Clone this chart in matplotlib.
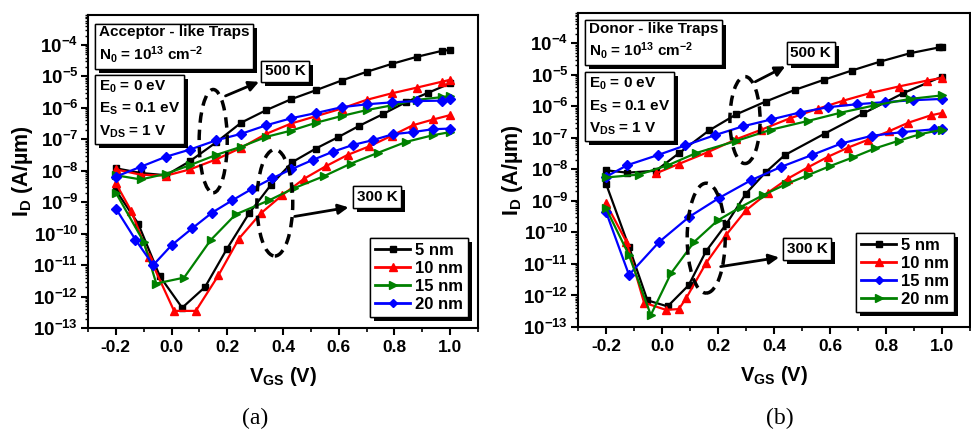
import numpy as np
import matplotlib
matplotlib.use("Agg")
import matplotlib.pyplot as plt
from matplotlib.patches import Ellipse
from matplotlib import patheffects
from matplotlib.ticker import LogLocator, FuncFormatter, MultipleLocator, NullFormatter

plt.rcParams['font.family'] = ['Liberation Sans', 'DejaVu Sans']
plt.rcParams['font.weight'] = 'bold'
plt.rcParams['axes.labelweight'] = 'bold'
plt.rcParams['mathtext.fontset'] = 'custom'
plt.rcParams['mathtext.rm'] = 'Liberation Sans:bold'
plt.rcParams['mathtext.bf'] = 'Liberation Sans:bold'
plt.rcParams['mathtext.it'] = 'Liberation Sans:bold'
plt.rcParams['mathtext.default'] = 'bf'

# ---- (a) acceptor-like traps ----
a500_5_x = [-0.2, -0.11, -0.02, 0.065, 0.16, 0.25, 0.34, 0.43, 0.52, 0.61, 0.70, 0.79, 0.88, 0.97, 1.0]
a500_5_y = [1.2e-8, 8.5e-9, 7.2e-9, 2.0e-8, 8e-8, 3.4e-7, 8.5e-7, 1.9e-6, 3.7e-6, 7.4e-6, 1.4e-5, 2.5e-5, 4.2e-5, 6.5e-5, 7e-5]
a500_10_x = [-0.2, -0.11, -0.02, 0.065, 0.16, 0.25, 0.34, 0.43, 0.52, 0.61, 0.70, 0.79, 0.88, 0.97, 1.0]
a500_10_y = [1.1e-8, 7.5e-9, 7e-9, 1.1e-8, 2.3e-8, 5.4e-8, 1.5e-7, 3.2e-7, 5.5e-7, 9.5e-7, 1.8e-6, 2.9e-6, 4.4e-6, 6.8e-6, 7.8e-6]
a500_15_x = [-0.2, -0.11, -0.02, 0.065, 0.16, 0.25, 0.34, 0.43, 0.52, 0.61, 0.70, 0.79, 0.88, 0.97, 1.0]
a500_15_y = [7.2e-9, 5.3e-9, 8e-9, 1.5e-8, 3.2e-8, 5.8e-8, 1.2e-7, 1.9e-7, 3.4e-7, 5.5e-7, 8.5e-7, 1.2e-6, 1.8e-6, 2.2e-6, 2.4e-6]
a500_20_x = [-0.2, -0.11, -0.02, 0.065, 0.16, 0.25, 0.34, 0.43, 0.52, 0.61, 0.70, 0.79, 0.88, 0.97, 1.0]
a500_20_y = [6.5e-9, 1.35e-8, 2.8e-8, 4.7e-8, 9.3e-8, 1.5e-7, 2.8e-7, 4.7e-7, 6.9e-7, 1.05e-6, 1.3e-6, 1.5e-6, 1.65e-6, 1.7e-6, 1.85e-6]

a300_5_x = [-0.2, -0.12, -0.042, 0.038, 0.12, 0.198, 0.278, 0.356, 0.434, 0.518, 0.596, 0.674, 0.758, 0.84, 0.92, 1.0]
a300_5_y = [2.4e-9, 2.1e-10, 4.4e-12, 4.4e-13, 2e-12, 3.2e-11, 4.4e-10, 3.5e-9, 1.9e-8, 5.1e-8, 1.15e-7, 2.7e-7, 6.3e-7, 1.5e-6, 3e-6, 6e-6]
a300_10_x = [-0.2, -0.145, -0.08, 0.009, 0.087, 0.168, 0.242, 0.32, 0.398, 0.476, 0.554, 0.632, 0.71, 0.79, 0.866, 0.94, 1.0]
a300_10_y = [4e-9, 5.3e-10, 1.8e-11, 3.5e-13, 3.5e-13, 4.7e-12, 7e-11, 4.4e-10, 1.7e-9, 5.6e-9, 1.4e-8, 3.2e-8, 6e-8, 1.3e-7, 2.8e-7, 4.3e-7, 5.9e-7]
a300_15_x = [-0.2, -0.1, -0.055, 0.045, 0.14, 0.23, 0.35, 0.44, 0.548, 0.644, 0.74, 0.842, 0.938, 1.0]
a300_15_y = [2e-9, 5.5e-11, 2.6e-12, 4e-12, 6.2e-11, 4.1e-10, 1.15e-9, 2.8e-9, 6.8e-9, 1.7e-8, 3.7e-8, 8.3e-8, 1.35e-7, 1.7e-7]
a300_20_x = [-0.2, -0.13, -0.066, 0.0, 0.075, 0.146, 0.218, 0.29, 0.362, 0.428, 0.506, 0.578, 0.65, 0.722, 0.794, 0.866, 0.938, 1.0]
a300_20_y = [6.3e-10, 6.5e-11, 1e-11, 4.3e-11, 1.5e-10, 4.7e-10, 1.15e-9, 2.7e-9, 5.8e-9, 1.1e-8, 2.2e-8, 4e-8, 6.6e-8, 9.4e-8, 1.45e-7, 1.7e-7, 2.1e-7, 2.2e-7]

# ---- (b) donor-like traps ----
b500_5_x = [-0.2, -0.124, -0.022, 0.062, 0.168, 0.265, 0.37, 0.475, 0.577, 0.678, 0.78, 0.887, 0.99, 1.0]
b500_5_y = [9.3e-9, 7.8e-9, 9e-9, 3.3e-8, 1.7e-7, 5.5e-7, 1.4e-6, 3.3e-6, 6.8e-6, 1.35e-5, 2.6e-5, 4.8e-5, 7.3e-5, 7.6e-5]
b500_10_x = [-0.022, 0.062, 0.164, 0.266, 0.355, 0.456, 0.557, 0.648, 0.743, 0.845, 0.947, 1.0]
b500_10_y = [7.4e-9, 1.5e-8, 3.5e-8, 9e-8, 1.8e-7, 4.1e-7, 8.3e-7, 1.5e-6, 2.6e-6, 4.2e-6, 6.5e-6, 7.9e-6]
b500_15_x = [-0.2, -0.124, -0.016, 0.083, 0.188, 0.289, 0.39, 0.492, 0.593, 0.695, 0.797, 0.898, 1.0]
b500_15_y = [5.8e-9, 1.35e-8, 2.8e-8, 5.7e-8, 1.2e-7, 2.3e-7, 3.8e-7, 6.3e-7, 9.3e-7, 1.15e-6, 1.35e-6, 1.55e-6, 1.7e-6]
b500_20_x = [-0.2, -0.082, 0.022, 0.123, 0.265, 0.39, 0.521, 0.641, 0.761, 0.886, 1.0]
b500_20_y = [5.5e-9, 6.8e-9, 1.35e-8, 3.3e-8, 7.9e-8, 1.8e-7, 3.4e-7, 6.3e-7, 1.07e-6, 1.7e-6, 2.2e-6]

b300_5_x = [-0.2, -0.118, -0.052, 0.02, 0.095, 0.157, 0.229, 0.3, 0.37, 0.438, 0.581, 0.719, 0.862, 1.0]
b300_5_y = [3.5e-9, 3.5e-11, 7e-13, 4.5e-13, 2.1e-12, 2.5e-11, 1.8e-10, 1.7e-9, 8e-9, 2.8e-8, 1.35e-7, 5.9e-7, 2.6e-6, 8.7e-6]
b300_10_x = [-0.2, -0.127, -0.064, 0.014, 0.06, 0.086, 0.157, 0.229, 0.3, 0.378, 0.45, 0.521, 0.593, 0.665, 0.737, 0.81, 0.88, 0.959, 1.0]
b300_10_y = [8.3e-10, 5e-11, 5.9e-13, 3.5e-13, 3.7e-13, 8.1e-13, 1.05e-11, 8.3e-11, 5e-10, 1.8e-9, 5.1e-9, 1.15e-8, 2.5e-8, 4.9e-8, 8.7e-8, 1.6e-7, 3e-7, 5.1e-7, 6.1e-7]
b300_15_x = [-0.2, -0.118, -0.01, 0.097, 0.205, 0.318, 0.426, 0.534, 0.641, 0.749, 0.856, 0.97, 1.0]
b300_15_y = [4.5e-10, 4.5e-12, 5e-11, 3.1e-10, 1.25e-9, 4.5e-9, 1.2e-8, 2.8e-8, 6.6e-8, 1.15e-7, 1.5e-7, 1.85e-7, 1.9e-7]
b300_20_x = [-0.2, -0.118, -0.04, 0.032, 0.115, 0.199, 0.283, 0.36, 0.444, 0.521, 0.599, 0.683, 0.761, 0.845, 0.922, 1.0]
b300_20_y = [5.8e-10, 1.9e-11, 2.4e-13, 5e-12, 5e-11, 2.4e-10, 6.5e-10, 1.5e-9, 3.4e-9, 6.5e-9, 1.25e-8, 2.4e-8, 4.6e-8, 8e-8, 1.3e-7, 1.8e-7]

thickness_labels = ['5 nm', '10 nm', '15 nm', '20 nm']

BLACK, RED, GREEN, BLUE = 'k', '#ff0000', '#008000', '#0000ff'
SHADOW = [patheffects.withSimplePatchShadow(offset=(3, -3), shadow_rgbFace='k', alpha=1.0),
          patheffects.Normal()]


def boxed(ax, x, y, s, ha='left', va='top', fs=11, ls=1.3):
    t = ax.text(x, y, s, transform=ax.transAxes, ha=ha, va=va, fontsize=fs,
                fontweight='bold', linespacing=ls, zorder=10,
                bbox=dict(boxstyle='square,pad=0.25', fc='white', ec='k', lw=1))
    t.get_bbox_patch().set_path_effects(SHADOW)
    return t


def setup_axes(ax):
    ax.set_yscale('log')
    ax.set_xlim(-0.3, 1.1)
    ax.set_ylim(1e-13, 9e-4)
    ax.yaxis.set_major_locator(LogLocator(base=10, numticks=20))
    ax.yaxis.set_minor_locator(LogLocator(base=10, subs=np.arange(2, 10), numticks=20))
    ax.yaxis.set_minor_formatter(NullFormatter())
    ax.yaxis.set_major_formatter(FuncFormatter(lambda v, p: r'$10^{%d}$' % int(round(np.log10(v)))))
    ax.xaxis.set_major_locator(MultipleLocator(0.2))
    ax.xaxis.set_minor_locator(MultipleLocator(0.1))
    ax.xaxis.set_major_formatter(FuncFormatter(lambda v, p: '%.1f' % v))
    ax.tick_params(which='major', direction='out', length=5, width=1.5)
    ax.tick_params(axis='x', which='major', labelsize=12.5)
    ax.tick_params(axis='y', which='major', labelsize=13.5, pad=2)
    ax.tick_params(axis='x', which='minor', direction='out', length=3, width=1.2)
    ax.tick_params(axis='y', which='minor', direction='out', length=2.5, width=1)
    for sp in ax.spines.values():
        sp.set_linewidth(1.5)
    for lab in ax.get_xticklabels() + ax.get_yticklabels():
        lab.set_fontweight('bold')
    ax.set_xlabel('V$_{GS}$ (V)', fontsize=14.5, labelpad=7)
    ax.set_ylabel('I$_D$ (A/µm)', fontsize=15.5)
    ax.yaxis.set_label_coords(-0.135, 0.5)


def draw_series(ax, series):
    handles = []
    for x5, y5, x3, y3, color, marker, ms, label in series:
        h, = ax.plot(x5, y5, color=color, marker=marker, ms=ms, lw=1.6, label=label)
        ax.plot(x3, y3, color=color, marker=marker, ms=ms, lw=1.6)
        handles.append(h)
    return handles


def add_legend(ax, handles, anchor):
    leg = ax.legend(handles=handles, loc='lower right', bbox_to_anchor=anchor, fontsize=12,
                    handlelength=2.1, labelspacing=0.18, borderpad=0.3, handletextpad=0.3,
                    borderaxespad=0, fancybox=False, framealpha=1, edgecolor='k',
                    markerscale=0.9)
    leg.get_frame().set_linewidth(1)
    leg.get_frame().set_path_effects(SHADOW)
    for line in leg.get_lines():
        line.set_linewidth(2)
    return leg


fig = plt.figure(figsize=(9.71, 4.42), dpi=100)
ax1 = fig.add_axes([88 / 971, 114 / 442, 390 / 971, 313 / 442])
ax2 = fig.add_axes([578 / 971, 115 / 442, 392 / 971, 314 / 442])

# panel (a)
setup_axes(ax1)
h1 = draw_series(ax1, [
    (a500_5_x, a500_5_y, a300_5_x, a300_5_y, BLACK, 's', 5, thickness_labels[0]),
    (a500_10_x, a500_10_y, a300_10_x, a300_10_y, RED, '^', 6, thickness_labels[1]),
    (a500_15_x, a500_15_y, a300_15_x, a300_15_y, GREEN, '>', 6, thickness_labels[2]),
    (a500_20_x, a500_20_y, a300_20_x, a300_20_y, BLUE, 'D', 5, thickness_labels[3]),
])
boxed(ax1, 0.028, 0.967, 'Acceptor - like Traps\nN$_0$ = 10$^{13}$ cm$^{-2}$')
boxed(ax1, 0.028, 0.797, 'E$_0$ = 0 eV\nE$_S$ = 0.1 eV\nV$_{DS}$ = 1 V', ls=1.5)
boxed(ax1, 0.505, 0.82, '500 K', ha='center', va='center')
boxed(ax1, 0.741, 0.419, '300 K', ha='center', va='center')
ax1.add_patch(Ellipse((0.321, 0.597), 0.072, 0.33, transform=ax1.transAxes, fill=False,
                      ls=(0, (3, 2)), lw=2.5, ec='k', zorder=6))
ax1.add_patch(Ellipse((0.479, 0.40), 0.092, 0.34, transform=ax1.transAxes, fill=False,
                      ls=(0, (3, 2)), lw=2.5, ec='k', zorder=6))
ax1.annotate('', xy=(0.445, 0.79), xytext=(0.346, 0.738), xycoords='axes fraction',
             arrowprops=dict(arrowstyle='-|>', color='k', lw=2, mutation_scale=15), zorder=7)
ax1.annotate('', xy=(0.675, 0.387), xytext=(0.523, 0.355), xycoords='axes fraction',
             arrowprops=dict(arrowstyle='-|>', color='k', lw=2, mutation_scale=15), zorder=7)
add_legend(ax1, h1, (0.975, 0.035))

# panel (b)
setup_axes(ax2)
h2 = draw_series(ax2, [
    (b500_5_x, b500_5_y, b300_5_x, b300_5_y, BLACK, 's', 5, thickness_labels[0]),
    (b500_10_x, b500_10_y, b300_10_x, b300_10_y, RED, '^', 6, thickness_labels[1]),
    (b500_15_x, b500_15_y, b300_15_x, b300_15_y, BLUE, 'D', 5, thickness_labels[2]),
    (b500_20_x, b500_20_y, b300_20_x, b300_20_y, GREEN, '>', 6, thickness_labels[3]),
])
boxed(ax2, 0.028, 0.972, 'Donor - like Traps\nN$_0$ = 10$^{13}$ cm$^{-2}$')
boxed(ax2, 0.028, 0.80, 'E$_0$ = 0 eV\nE$_S$ = 0.1 eV\nV$_{DS}$ = 1 V', ls=1.5)
boxed(ax2, 0.594, 0.873, '500 K', ha='center', va='center')
boxed(ax2, 0.584, 0.248, '300 K', ha='center', va='center')
ax2.add_patch(Ellipse((0.426, 0.659), 0.077, 0.277, transform=ax2.transAxes, fill=False,
                      ls=(0, (3, 2)), lw=2.5, ec='k', zorder=6))
ax2.add_patch(Ellipse((0.327, 0.283), 0.097, 0.35, transform=ax2.transAxes, fill=False,
                      ls=(0, (3, 2)), lw=2.5, ec='k', zorder=6))
ax2.annotate('', xy=(0.535, 0.834), xytext=(0.446, 0.777), xycoords='axes fraction',
             arrowprops=dict(arrowstyle='-|>', color='k', lw=2, mutation_scale=15), zorder=7)
ax2.annotate('', xy=(0.52, 0.223), xytext=(0.357, 0.191), xycoords='axes fraction',
             arrowprops=dict(arrowstyle='-|>', color='k', lw=2, mutation_scale=15), zorder=7)
add_legend(ax2, h2, (0.96, 0.048))

fig.text(0.263, 0.054, '(a)', ha='center', va='center', fontsize=17,
         family='Liberation Serif', fontweight='normal')
fig.text(0.803, 0.054, '(b)', ha='center', va='center', fontsize=17,
         family='Liberation Serif', fontweight='normal')

fig.savefig('out.png', dpi=100)
